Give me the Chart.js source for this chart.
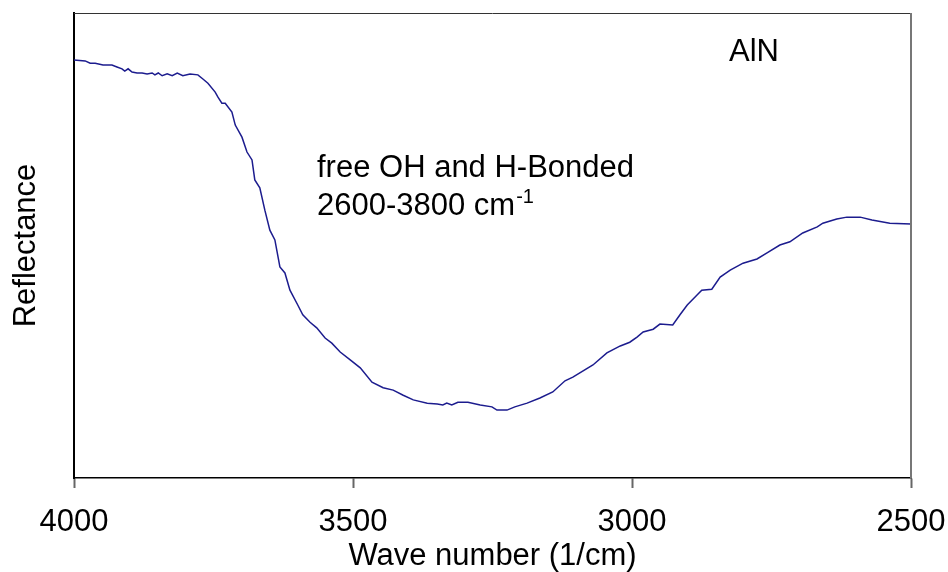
<!DOCTYPE html>
<html>
<head>
<meta charset="utf-8">
<script src="https://cdn.jsdelivr.net/npm/chart.js@4.4.1/dist/chart.umd.min.js"></script>
<style>
  html, body { margin: 0; padding: 0; background: #fff; }
  #wrap { width: 948px; height: 572px; }
</style>
</head>
<body>
<div id="wrap"><canvas id="spectrum" width="948" height="572"></canvas></div>
<script>
    // wave numbers (1/cm), high to low

const waveNumbers = [
  4000, 3980, 3971, 3962, 3948, 3932, 3923, 3914, 3909, 3903,
  3896, 3887, 3878, 3869, 3860, 3855, 3849, 3842, 3833, 3824,
  3815, 3805, 3792, 3778, 3769, 3760, 3747, 3742, 3735, 3729,
  3717, 3711, 3699, 3690, 3681, 3676, 3667, 3658, 3649, 3640,
  3631, 3622, 3613, 3599, 3590, 3577, 3565, 3550, 3538, 3523,
  3505, 3487, 3466, 3446, 3428, 3410, 3392, 3367, 3349, 3339,
  3332, 3323, 3312, 3294, 3272, 3251, 3242, 3224, 3210, 3188,
  3165, 3142, 3120, 3106, 3070, 3045, 3021, 3004, 2991, 2980,
  2962, 2950, 2927, 2914, 2901, 2883, 2875, 2857, 2842, 2824,
  2801, 2776, 2758, 2735, 2717, 2694, 2668, 2658, 2633, 2615,
  2591, 2570, 2538, 2500
];

    // reflectance, arbitrary units

const reflectance = [
  89.9, 89.7, 89.2, 89.2, 88.8, 88.8, 88.4, 88.0, 87.5, 88.0,
  87.3, 87.1, 87.1, 86.9, 87.1, 86.7, 87.1, 86.5, 86.9, 86.5,
  87.1, 86.5, 86.9, 86.7, 85.8, 84.9, 83.0, 81.9, 80.6, 80.6,
  78.7, 75.9, 73.3, 70.1, 68.4, 64.1, 62.4, 57.6, 53.3, 51.2,
  45.4, 44.1, 40.4, 37.2, 35.1, 33.5, 32.3, 30.1, 29.0, 27.1,
  25.4, 23.7, 20.6, 19.4, 18.9, 17.8, 16.8, 16.1, 15.9, 15.7,
  16.1, 15.7, 16.3, 16.3, 15.7, 15.3, 14.6, 14.6, 15.3, 16.1,
  17.2, 18.5, 20.9, 21.7, 24.3, 26.9, 28.4, 29.2, 30.3, 31.4,
  32.0, 33.1, 32.9, 35.1, 37.2, 39.4, 40.4, 40.6, 43.2, 44.7,
  46.2, 47.1, 48.4, 50.1, 50.8, 52.7, 54.0, 54.8, 55.7, 56.1,
  56.1, 55.5, 54.8, 54.6
];

const xTicks = [4000, 3500, 3000, 2500];

const FONT = "'Liberation Sans', Arial, sans-serif";
Chart.defaults.font.family = FONT;
Chart.defaults.color = '#000';

const points = waveNumbers.map((w, i) => ({ x: w, y: reflectance[i] }));

    // top/right frame and the text notes inside the plot
const framePlugin = {
  id: 'frame',
  afterDraw(chart) {
    const { ctx, chartArea: a } = chart;
    ctx.save();
    ctx.strokeStyle = '#333';
    ctx.lineWidth = 1;
    ctx.beginPath();
    ctx.moveTo(a.left, a.top + 0.5);
    ctx.lineTo(a.right, a.top + 0.5);
    ctx.stroke();
    ctx.strokeStyle = '#777';
    ctx.lineWidth = 2;
    ctx.beginPath();
    ctx.moveTo(a.right, a.top);
    ctx.lineTo(a.right, a.bottom);
    ctx.stroke();

    ctx.fillStyle = '#000';
    ctx.textBaseline = 'alphabetic';
    ctx.font = '31px ' + FONT;
    ctx.fillText('AlN', a.left + 655, a.top + 48);
    ctx.fillText('free OH and H-Bonded', a.left + 243, a.top + 164);
    const line2 = '2600-3800 cm';
    ctx.fillText(line2, a.left + 243, a.top + 202);
    const w = ctx.measureText(line2).width;
    ctx.font = '20px ' + FONT;
    ctx.fillText('-1', a.left + 243 + w + 1, a.top + 190);
    ctx.restore();
  }
};

const spectrumChart = new Chart(document.getElementById('spectrum'), {
  type: 'line',
  data: {
    datasets: [{
      data: points,
      borderColor: '#1c1c8e',
      borderWidth: 1.5,
      pointRadius: 0,
      tension: 0,
      fill: false
    }]
  },
  options: {
    responsive: false,
    animation: false,
    layout: { padding: { top: 13, right: 37, left: 0, bottom: 0 } },
    plugins: {
      legend: { display: false },
      tooltip: { enabled: false }
    },
    scales: {
      x: {
        type: 'linear',
        reverse: true,
        min: 2500,
        max: 4000,
        afterBuildTicks: (scale) => { scale.ticks = xTicks.map(v => ({ value: v })); },
        afterFit: (scale) => {
          scale.height = 94;
          // end labels may spill into the margins
          scale.paddingLeft = 0;
          scale.paddingRight = 0;
        },
        ticks: {
          autoSkip: false,
          maxRotation: 0,
          padding: 16,
          font: { size: 31 },
          color: '#000',
          callback: (v) => String(v)
        },
        grid: {
          drawOnChartArea: false,
          drawTicks: true,
          tickLength: 10,
          tickWidth: 2,
          tickColor: '#666'
        },
        border: { display: true, color: '#000', width: 1.5 },
        title: {
          display: true,
          text: 'Wave number (1/cm)',
          font: { size: 31 },
          padding: { top: 0, bottom: -3 }
        }
      },
      y: {
        min: 0,
        max: 100,
        afterFit: (scale) => { scale.width = 74; },
        ticks: { display: false },
        grid: { display: false, drawTicks: false },
        border: { display: true, color: '#000', width: 2 },
        title: {
          display: true,
          text: 'Reflectance',
          font: { size: 31 },
          padding: { top: 8, bottom: 0 }
        }
      }
    }
  },
  plugins: [framePlugin]
});
</script>
</body>
</html>
